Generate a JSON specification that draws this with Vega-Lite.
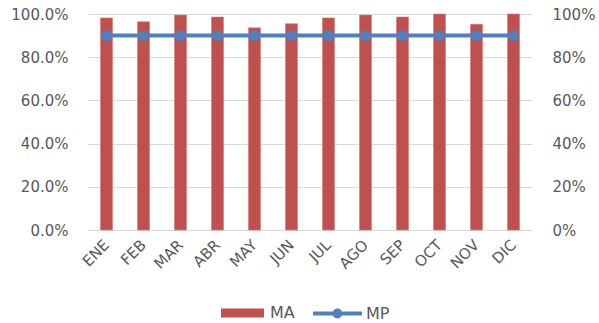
{
  "$schema": "https://vega.github.io/schema/vega-lite/v6.json",
  "width": 444,
  "height": 216,
  "autosize": {"type": "none"},
  "padding": {"left": 88, "top": 14, "right": 67, "bottom": 93},
  "background": "white",
  "config": {
    "view": {"stroke": null},
    "font": "DejaVu Sans",
    "axis": {"labelColor": "#595959", "labelFont": "DejaVu Sans", "labelFontSize": 15},
    "legend": {"labelColor": "#595959", "labelFont": "DejaVu Sans", "labelFontSize": 16}
  },
  "data": {
    "values": [
      {"mes": "ENE", "MA": 0.982, "MP": 0.9},
      {"mes": "FEB", "MA": 0.964, "MP": 0.9},
      {"mes": "MAR", "MA": 0.995, "MP": 0.9},
      {"mes": "ABR", "MA": 0.986, "MP": 0.9},
      {"mes": "MAY", "MA": 0.936, "MP": 0.9},
      {"mes": "JUN", "MA": 0.955, "MP": 0.9},
      {"mes": "JUL", "MA": 0.982, "MP": 0.9},
      {"mes": "AGO", "MA": 0.995, "MP": 0.9},
      {"mes": "SEP", "MA": 0.986, "MP": 0.9},
      {"mes": "OCT", "MA": 1.0, "MP": 0.9},
      {"mes": "NOV", "MA": 0.952, "MP": 0.9},
      {"mes": "DIC", "MA": 1.0, "MP": 0.9}
    ]
  },
  "encoding": {
    "x": {
      "field": "mes",
      "type": "nominal",
      "sort": null,
      "scale": {"paddingInner": 0, "paddingOuter": 0},
      "axis": {
        "title": null,
        "labelAngle": -45,
        "labelAlign": "right",
        "labelBaseline": "middle",
        "labelFontSize": 15,
        "labelPadding": 12,
        "ticks": false,
        "domainColor": "#D9D9D9",
        "domainWidth": 1
      }
    }
  },
  "layer": [
    {
      "mark": {"type": "bar", "size": 12, "stroke": "#D77A78", "strokeWidth": 0.6},
      "encoding": {
        "y": {
          "field": "MA",
          "type": "quantitative",
          "scale": {"domain": [0, 1]},
          "axis": {
            "title": null,
            "format": ".1%",
            "values": [0, 0.2, 0.4, 0.6, 0.8, 1],
            "domain": false,
            "ticks": false,
            "labelPadding": 20,
            "gridColor": "#D9D9D9",
            "gridWidth": 1
          }
        },
        "fill": {
          "datum": "MA",
          "scale": {"domain": ["MA"], "range": ["#C0504D"]},
          "legend": {
            "title": null,
            "orient": "none",
            "direction": "horizontal",
            "legendX": 133,
            "legendY": 277.5,
            "labelOffset": 6,
            "symbolSize": 1849,
            "symbolType": "M-1,-0.21H1V0.21H-1Z",
            "symbolStrokeWidth": 0,
            "symbolOpacity": 1
          }
        }
      }
    },
    {
      "mark": {"type": "line", "strokeWidth": 4, "point": {"filled": true, "size": 80, "color": "#4F81BD"}},
      "encoding": {
        "y": {
          "field": "MP",
          "type": "quantitative",
          "scale": {"domain": [0, 1]},
          "axis": {
            "title": null,
            "orient": "right",
            "format": ".0%",
            "values": [0, 0.2, 0.4, 0.6, 0.8, 1],
            "domain": false,
            "ticks": false,
            "grid": false,
            "labelPadding": 20
          }
        },
        "stroke": {
          "datum": "MP",
          "scale": {"domain": ["MP"], "range": ["#4F81BD"]},
          "legend": {
            "title": null,
            "orient": "none",
            "direction": "horizontal",
            "legendX": 225,
            "legendY": 275,
            "labelOffset": 4,
            "symbolSize": 2401,
            "symbolType": "M-1,-0.08H1V0.08H-1Z M-0.2,0A0.2,0.2 0 1,1 0.2,0A0.2,0.2 0 1,1 -0.2,0Z",
            "symbolFillColor": "#4F81BD",
            "symbolStrokeWidth": 0,
            "symbolOpacity": 1,
            "encode": {
              "symbols": {
                "update": {
                  "fill": {"value": "#4F81BD"},
                  "strokeWidth": {"value": 0}
                }
              }
            }
          }
        }
      }
    }
  ],
  "resolve": {"scale": {"y": "independent"}}
}
